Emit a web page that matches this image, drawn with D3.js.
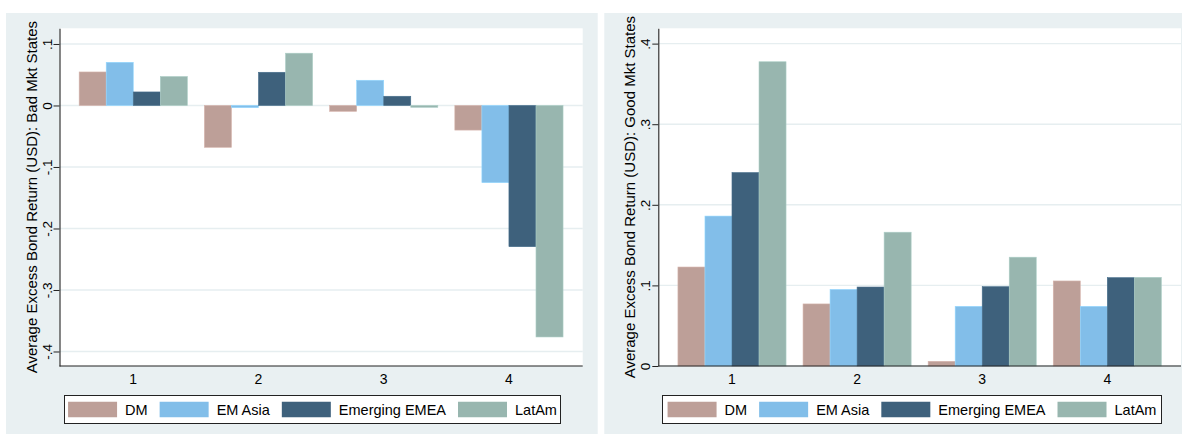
<!DOCTYPE html>
<html>
<head>
<meta charset="utf-8">
<script src="https://cdn.jsdelivr.net/npm/d3@7"></script>
<style>
  html, body { margin: 0; padding: 0; background: #ffffff; }
  svg { display: block; font-family: "Liberation Sans", Arial, Helvetica, sans-serif; }
</style>
</head>
<body>
<svg id="chart" width="1182" height="436"></svg>
<script>
// Portfolio groups on the x axis
const groups = ["1", "2", "3", "4"];
const seriesNames = ["DM", "EM Asia", "Emerging EMEA", "LatAm"];
const seriesColors = ["#bd9f98", "#82bee9", "#3e617c", "#98b6af"];

// Average excess bond returns (USD) in bad market states
const badDM     = [0.0545, -0.068, -0.0095, -0.040];
const badEMAsia = [0.0702, -0.0035, 0.041, -0.1255];
const badEMEA   = [0.0220, 0.054, 0.015, -0.2296];
const badLatAm  = [0.0471, 0.085, -0.003, -0.3764];

// Average excess bond returns (USD) in good market states
const goodDM     = [0.1228, 0.077, 0.0058, 0.1055];
const goodEMAsia = [0.186, 0.095, 0.074, 0.074];
const goodEMEA   = [0.240, 0.098, 0.0984, 0.1096];
const goodLatAm  = [0.3775, 0.166, 0.135, 0.110];

// Axis ticks and extents
const badTicks  = [0.1, 0, -0.1, -0.2, -0.3, -0.4];
const goodTicks = [0, 0.1, 0.2, 0.3, 0.4];
const badDomain  = [-0.4236, 0.1255];
const goodDomain = [0, 0.419];

const badTitle  = "Average Excess Bond Return (USD): Bad Mkt States";
const goodTitle = "Average Excess Bond Return (USD): Good Mkt States";

const svg = d3.select("#chart");
const panelBg = "#e9f0f2";
const gridColor = "#e6eef0";

// Stata-style tick labels: ".1", "0", "-.1"
const stataFmt = v => {
  if (Math.abs(v) < 1e-9) return "0";
  return d3.format(".1f")(v).replace("0.", ".").replace("−", "-");
};

function drawPanel(opts) {
  const { panel, plot, series, ticks, domain, title } = opts;

  svg.append("rect")
    .attr("x", panel.x).attr("y", panel.y)
    .attr("width", panel.w).attr("height", panel.h)
    .attr("fill", panelBg);

  const g = svg.append("g");

  g.append("rect")
    .attr("x", plot.x0).attr("y", plot.y0)
    .attr("width", plot.x1 - plot.x0).attr("height", plot.y1 - plot.y0)
    .attr("fill", "#ffffff");

  const x0 = d3.scaleBand().domain(groups)
    .range([plot.x0, plot.x1])
    .paddingInner(0.136).paddingOuter(0.157);
  const x1 = d3.scaleBand().domain(seriesNames)
    .range([0, x0.bandwidth()]).padding(0);
  const y = d3.scaleLinear().domain(domain).range([plot.y1, plot.y0]);

  // gridlines
  g.append("g").selectAll("line").data(ticks).join("line")
    .attr("x1", plot.x0).attr("x2", plot.x1)
    .attr("y1", d => y(d)).attr("y2", d => y(d))
    .attr("stroke", gridColor).attr("stroke-width", 1.4);

  // bars
  const rows = groups.map((grp, i) => ({
    grp,
    vals: seriesNames.map((s, j) => ({ s, j, v: series[j][i] }))
  }));
  g.append("g").selectAll("g").data(rows).join("g")
    .attr("transform", d => `translate(${x0(d.grp)},0)`)
    .selectAll("rect").data(d => d.vals).join("rect")
    .attr("x", d => x1(d.s))
    .attr("width", x1.bandwidth())
    .attr("y", d => y(Math.max(0, d.v)))
    .attr("height", d => Math.abs(y(d.v) - y(0)))
    .attr("fill", d => seriesColors[d.j])
    .attr("stroke", d => d3.color(seriesColors[d.j]).brighter(0.35))
    .attr("stroke-width", 0.6);

  // y axis
  const yAxis = g.append("g")
    .attr("transform", `translate(${plot.x0},0)`)
    .call(d3.axisLeft(y).tickValues(ticks).tickFormat(stataFmt)
      .tickSize(6).tickSizeOuter(0).tickPadding(2));
  yAxis.select(".domain").attr("stroke", "#222").attr("stroke-width", 1.1);
  yAxis.selectAll(".tick line").attr("stroke", "#222");
  yAxis.selectAll(".tick text")
    .attr("x", null).attr("dy", null)
    .attr("text-anchor", "middle")
    .attr("transform", "translate(-8,0) rotate(-90)")
    .attr("font-size", 13.5).attr("fill", "#000");

  // x axis
  const xAxis = g.append("g")
    .attr("transform", `translate(0,${plot.y1})`)
    .call(d3.axisBottom(x0).tickSize(0).tickSizeOuter(0).tickPadding(8));
  xAxis.select(".domain").attr("stroke", "#222").attr("stroke-width", 1.1)
    .attr("d", `M${plot.x0},0H${plot.x1}`);
  xAxis.selectAll(".tick text").attr("font-size", 14).attr("fill", "#000");

  // y axis title
  g.append("text")
    .attr("transform", `translate(${plot.x0 - 23},${(plot.y0 + plot.y1) / 2}) rotate(-90)`)
    .attr("text-anchor", "middle")
    .attr("font-size", 15)
    .attr("fill", "#000")
    .text(title);

  // legend
  const leg = g.append("g");
  leg.append("rect")
    .attr("x", opts.legend.x).attr("y", opts.legend.y)
    .attr("width", opts.legend.w).attr("height", opts.legend.h)
    .attr("fill", "#ffffff").attr("stroke", "#222").attr("stroke-width", 1);
  const swW = 49, swH = 15.5, labGap = 8, itemGap = 12;
  const items = leg.selectAll("g.item").data(seriesNames).join("g").attr("class", "item");
  items.append("rect")
    .attr("width", swW).attr("height", swH)
    .attr("y", -swH / 2)
    .attr("fill", (d, i) => seriesColors[i]);
  items.append("text")
    .attr("x", swW + labGap).attr("y", 5.3)
    .attr("font-size", 14.5).attr("fill", "#000")
    .text(d => d);
  let cx = 0;
  const offsets = [];
  items.each(function () {
    offsets.push(cx);
    const w = swW + labGap + this.querySelector("text").getComputedTextLength();
    cx += w + itemGap;
  });
  const total = cx - itemGap;
  const start = opts.legend.x + (opts.legend.w - total) / 2;
  const midY = opts.legend.y + opts.legend.h / 2;
  items.attr("transform", (d, i) => `translate(${start + offsets[i]},${midY})`);
}

drawPanel({
  panel: { x: 6, y: 13, w: 591.7, h: 421 },
  plot: { x0: 59.5, x1: 582.7, y0: 28.3, y1: 366 },
  series: [badDM, badEMAsia, badEMEA, badLatAm],
  ticks: badTicks, domain: badDomain, title: badTitle,
  legend: { x: 64.5, y: 395.5, w: 496, h: 28 }
});

drawPanel({
  panel: { x: 604.3, y: 13, w: 577.7, h: 421 },
  plot: { x0: 658.3, x1: 1181, y0: 28.3, y1: 366 },
  series: [goodDM, goodEMAsia, goodEMEA, goodLatAm],
  ticks: goodTicks, domain: goodDomain, title: goodTitle,
  legend: { x: 662.5, y: 395.5, w: 499, h: 28 }
});
</script>
</body>
</html>
